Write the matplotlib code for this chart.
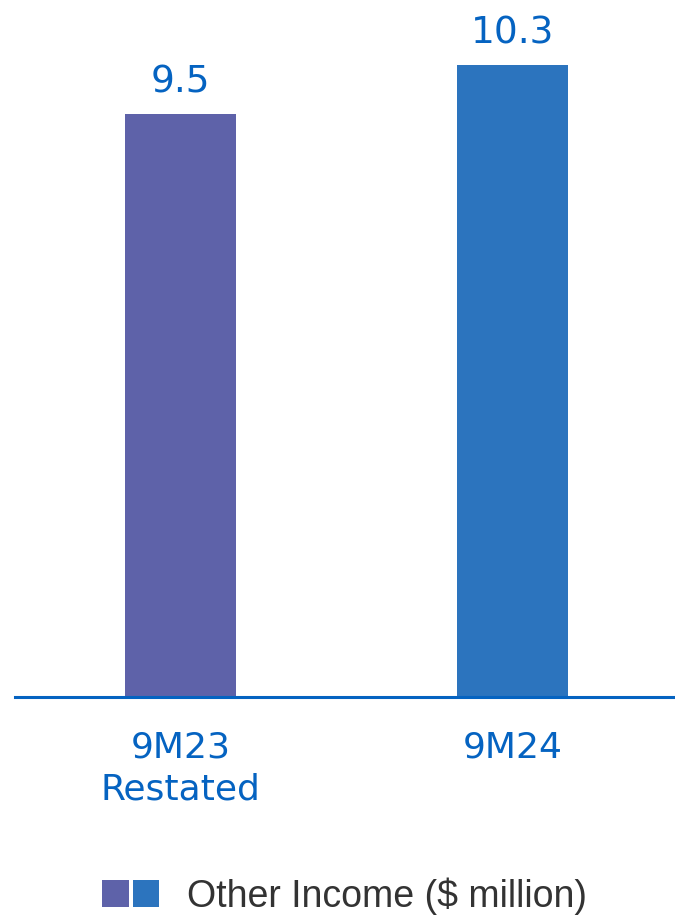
import matplotlib.pyplot as plt
from matplotlib.legend_handler import HandlerTuple

# data
categories = ['9M23\nRestated', '9M24']
values = [9.5, 10.3]
bar_colors = ['#5E62A9', '#2C74BE']
series_name = 'Other Income ($ million)'

text_blue = '#0563C1'

fig = plt.figure(figsize=(6.75, 9.16), dpi=100)
ax = fig.add_axes([15 / 675, 1 - 697 / 916, 1 - 15 / 675, 697 / 916])

x = list(range(len(categories)))
bars = ax.bar(x, values, width=0.334, color=bar_colors)

ax.set_xlim(-0.4985, 1.49)
ax.set_ylim(0, 11.36)

for xi, v in zip(x, values):
    ax.annotate(f'{v:.1f}', (xi, v), xytext=(0, 10), textcoords='offset points',
                ha='center', va='bottom', fontsize=27, color=text_blue)

for side in ['top', 'right', 'left']:
    ax.spines[side].set_visible(False)
ax.spines['bottom'].set_color(text_blue)
ax.spines['bottom'].set_linewidth(2.2)
ax.set_yticks([])
ax.set_xticks(x)
ax.set_xticklabels(categories, fontsize=26, color=text_blue, linespacing=1.32)
ax.tick_params(axis='x', length=0, pad=24)

leg = fig.legend([tuple(bars)], [series_name],
                 handler_map={tuple: HandlerTuple(ndivide=None, pad=0.1)},
                 loc='center', bbox_to_anchor=(0.511, 1 - 896 / 916),
                 frameon=False, handlelength=1.52, handleheight=0.75,
                 handletextpad=0.75,
                 prop={'family': 'Liberation Sans', 'size': 27})
for t in leg.get_texts():
    t.set_color('#333333')

fig.savefig('out.png', dpi=100)
